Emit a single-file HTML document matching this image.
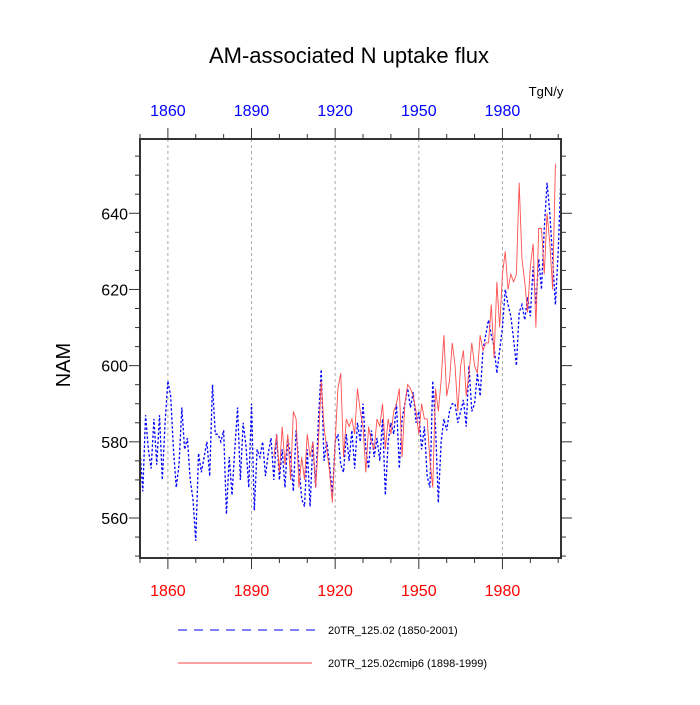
<!DOCTYPE html>
<html><head><meta charset="utf-8"><style>
body{margin:0;background:#fff}
svg{font-family:"Liberation Sans",sans-serif}
</style></head><body>
<svg id="chart" width="700" height="700" viewBox="0 0 700 700" xmlns="http://www.w3.org/2000/svg">
<text x="349" y="63" font-size="22" text-anchor="middle">AM-associated N uptake flux</text>
<text x="546" y="96" font-size="13" text-anchor="middle">TgN/y</text>
<text x="70" y="365" font-size="20" text-anchor="middle" transform="rotate(-90 70 365)">NAM</text>
<g id="grid"></g>
<g id="series"></g>
<g id="axes"></g>
<g>
<line x1="178" y1="630" x2="315" y2="630" stroke="#0000ff" stroke-width="1" stroke-dasharray="9,7"/>
<text x="328" y="634" font-size="11">20TR_125.02 (1850-2001)</text>
<line x1="178" y1="663" x2="312" y2="663" stroke="#ff4040" stroke-width="1"/>
<text x="328" y="667" font-size="11">20TR_125.02cmip6 (1898-1999)</text>
</g>
</svg>
<script>
const blueStart = 1850;
const blueValues = [578,567,587,578,573,586,574,587,570,585,596,592,578,568,574,589,578,581,570,565,554,577,572,576,580,571,595,582,582,580,583,561,576,566,578,589,570,585,579,568,590,562,578,576,580,571,577,581,570,582,570,578,568,581,576,567,583,574,565,563,578,563,580,568,586,599,575,580,574,566,580,582,574,572,582,575,583,573,585,580,590,578,573,583,576,581,575,586,566,580,585,582,590,573,586,590,594,589,593,585,588,578,584,571,568,596,584,564,580,586,583,588,590,590,585,588,591,584,600,588,590,598,592,604,608,612,608,605,598,604,610,620,616,613,607,600,614,616,612,618,613,626,616,628,620,636,648,640,628,616,630,650];
const redStart = 1898;
const redValues = [576,582,572,584,574,582,570,588,586,568,576,570,582,576,580,568,580,596,584,578,572,564,580,594,598,576,586,584,586,582,594,588,584,572,584,580,578,586,584,590,578,586,582,588,590,594,576,590,595,594,592,588,582,590,586,586,575,568,594,588,596,608,592,596,606,600,588,600,604,592,598,606,600,598,608,604,606,606,616,602,622,610,624,630,620,624,622,624,648,628,622,614,626,632,610,636,636,624,640,632,620,653];
const yTicks = [560,580,600,620,640];
const xTicks = [1860,1890,1920,1950,1980];

const L=140,R=561,T=139,B=558;
const xMin=1850,xMax=2001,yMin=549.5,yMax=659.5;
const xs=v=>L+(v-xMin)/(xMax-xMin)*(R-L);
const ys=v=>B-(v-yMin)/(yMax-yMin)*(B-T);
const NS="http://www.w3.org/2000/svg";
function mk(tag,parent,attrs){const e=document.createElementNS(NS,tag);for(const k in attrs)e.setAttribute(k,attrs[k]);parent.appendChild(e);return e;}
const grid=document.getElementById('grid'),series=document.getElementById('series'),axes=document.getElementById('axes');

xTicks.forEach(t=>{
  const g=mk('line',grid,{x1:xs(t),x2:xs(t),y1:T,y2:B,stroke:'#aaa','stroke-width':1,'stroke-dasharray':'3,3'});
  
  
});

function path(start,vals,color,dash,w,name){
  const d=vals.map((v,i)=>(i?'L':'M')+xs(start+i).toFixed(2)+','+ys(v).toFixed(2)).join('');
  const p=mk('path',series,{d:d,fill:'none',stroke:color,'stroke-width':w});
  if(dash)p.setAttribute('stroke-dasharray',dash);
  
  
}
path(blueStart,blueValues,'#0000ff','2.5,2',1.3,'series-20tr-125-02');
path(redStart,redValues,'#ff5050',null,0.9,'series-20tr-125-02cmip6');

const frame=mk('rect',axes,{x:L,y:T,width:R-L,height:B-T,fill:'none',stroke:'#333','stroke-width':2});


for(let v=550;v<=655;v+=5){
  const major=yTicks.includes(v);const len=major?11:5;
  mk('line',axes,{x1:L,x2:L-len,y1:ys(v),y2:ys(v),stroke:'#333','stroke-width':1});
  mk('line',axes,{x1:R,x2:R+len,y1:ys(v),y2:ys(v),stroke:'#333','stroke-width':1});
}
yTicks.forEach(v=>{
  const t=mk('text',axes,{x:L-12,y:ys(v)+6,'font-size':16,'text-anchor':'end'});
  t.textContent=v;
  
  
});
for(let v=1850;v<=2000;v+=10){
  const major=xTicks.includes(v);const len=major?11:5;
  mk('line',axes,{x1:xs(v),x2:xs(v),y1:B,y2:B+len,stroke:'#333','stroke-width':1});
  mk('line',axes,{x1:xs(v),x2:xs(v),y1:T,y2:T-len,stroke:'#333','stroke-width':1});
}
xTicks.forEach(v=>{
  const b=mk('text',axes,{x:xs(v),y:596,'font-size':16,'text-anchor':'middle',fill:'#ff0000'});
  b.textContent=v;
  
  
  const t=mk('text',axes,{x:xs(v),y:116,'font-size':16,'text-anchor':'middle',fill:'#0000ff'});
  t.textContent=v;
  
  
});
</script>
</body></html>
